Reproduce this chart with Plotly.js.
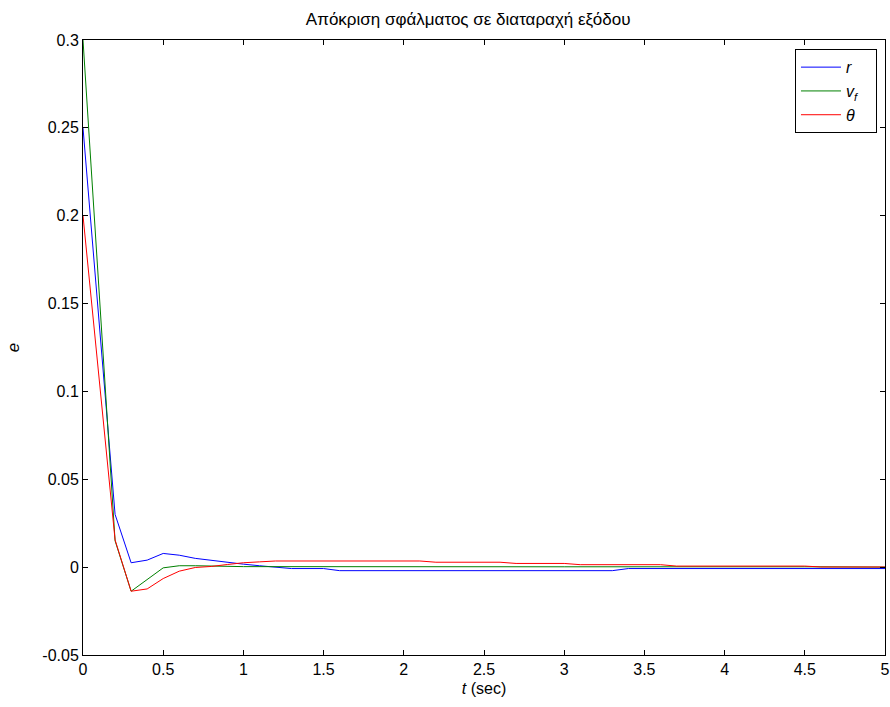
<!DOCTYPE html>
<html>
<head>
<meta charset="utf-8">
<script src="https://cdn.plot.ly/plotly-3.0.1.min.js"></script>
<style>body{margin:0;background:#fff}#chart{width:890px;height:707px}</style>
</head>
<body>
<div id="chart"></div>
<script>
// Data (breakpoints of each polyline)
const tR = [0, 0.2, 0.3, 0.4, 0.5, 0.6, 0.7, 0.8, 0.9, 1.0, 1.1, 1.2, 1.3, 1.5, 1.6, 3.3, 3.4, 5];
const eR = [0.25, 0.03, 0.0025, 0.004, 0.0078, 0.0068, 0.005, 0.0038, 0.0027, 0.0017, 0.0008, 0.0, -0.0008, -0.0008, -0.002, -0.002, -0.0008, -0.0008];

const tV = [0, 0.2, 0.3, 0.4, 0.5, 0.6, 0.7, 1.0, 1.5, 3.0, 4.5, 5];
const eV = [0.3, 0.015, -0.0137, -0.007, -0.0004, 0.0008, 0.0008, 0.0003, 0.0002, 0.0002, 0.0002, 0.0];

const tTh = [0, 0.2, 0.3, 0.4, 0.5, 0.6, 0.7, 0.8, 0.9, 1.0, 1.1, 1.2, 2.1, 2.2, 2.6, 2.7, 3.0, 3.1, 3.6, 3.7, 4.5, 4.6, 5];
const eTh = [0.2, 0.0155, -0.0137, -0.0124, -0.0065, -0.0023, -0.0002, 0.0004, 0.0015, 0.0025, 0.003, 0.0035, 0.0035, 0.0028, 0.0028, 0.0021, 0.0021, 0.0014, 0.0014, 0.0006, 0.0006, 0.0001, 0.0001];

const seriesNames = ['<i>r</i>', '<i>v<sub>f</sub></i>', '<i>θ</i>'];
const xTicks = [0, 0.5, 1, 1.5, 2, 2.5, 3, 3.5, 4, 4.5, 5];
const yTicks = [-0.05, 0, 0.05, 0.1, 0.15, 0.2, 0.25, 0.3];

const pad = '\u00a0\u00a0\u00a0';
const traces = [
  {x: tR, y: eR, name: seriesNames[0] + pad, mode: 'lines', line: {color: '#0000ff', width: 1}},
  {x: tV, y: eV, name: seriesNames[1] + pad, mode: 'lines', line: {color: '#008000', width: 1}},
  {x: tTh, y: eTh, name: seriesNames[2] + pad, mode: 'lines', line: {color: '#ff0000', width: 1}}
];

const axisCommon = {
  showline: true, linecolor: '#000', linewidth: 1, mirror: 'ticks',
  ticks: 'inside', ticklen: 5, tickcolor: '#000', tickwidth: 1,
  showgrid: false, zeroline: false,
  tickfont: {family: 'Liberation Sans, Arial, sans-serif', size: 16, color: '#000'}
};

const layout = {
  width: 890, height: 707,
  margin: {l: 83, r: 5, t: 40, b: 52},
  paper_bgcolor: '#fff', plot_bgcolor: '#fff',
  font: {family: 'Liberation Sans, Arial, sans-serif', color: '#000'},
  title: {text: 'Απόκριση σφάλματος σε διαταραχή εξόδου', font: {size: 17, color: '#000'},
          x: 0.526, xanchor: 'center', xref: 'container', y: 0.973, yanchor: 'middle', yref: 'container'},
  xaxis: Object.assign({}, axisCommon, {
    range: [0, 5], tickvals: xTicks, ticktext: xTicks.map(String),
    title: {text: '<i>t</i> (sec)', font: {size: 16, color: '#000'}, standoff: 5}
  }),
  yaxis: Object.assign({}, axisCommon, {
    range: [-0.05, 0.3], tickvals: yTicks, ticktext: yTicks.map(String),
    title: {text: '<i>e</i>', font: {size: 17, color: '#000'}, standoff: 18}
  }),
  showlegend: true,
  legend: {
    x: 0.99, xanchor: 'right', y: 0.985, yanchor: 'top',
    bgcolor: '#fff', bordercolor: '#000', borderwidth: 1,
    font: {size: 16, color: '#000'}, itemwidth: 40, tracegroupgap: 0
  }
};

Plotly.newPlot('chart', traces, layout, {displayModeBar: false, staticPlot: true});
</script>
</body>
</html>
